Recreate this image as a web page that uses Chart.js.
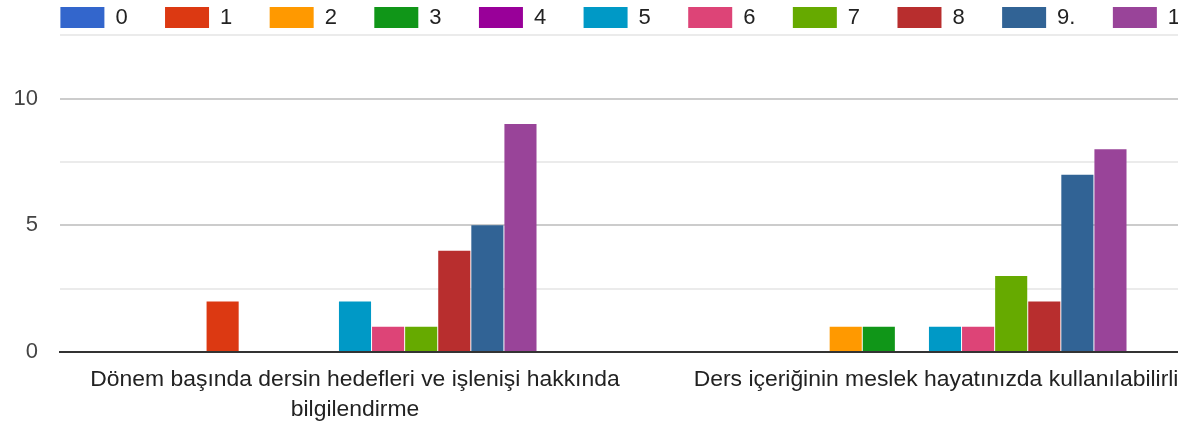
<!DOCTYPE html>
<html>
<head>
<meta charset="utf-8">
<script src="https://cdn.jsdelivr.net/npm/chart.js@4.4.1/dist/chart.umd.min.js"></script>
<style>
  html, body { margin: 0; padding: 0; background: #fff; overflow: hidden; }
  #wrap { width: 1250px; height: 423px; }
</style>
</head>
<body>
<div id="wrap"><canvas id="chart"></canvas></div>
<script>
// Kategoriler ve seriler
const categories = [
    ['Dönem başında dersin hedefleri ve işlenişi hakkında', 'bilgilendirme'],
    'Ders içeriğinin meslek hayatınızda kullanılabilirliği'
];
const seriesNames = ['0', '1', '2', '3', '4', '5', '6', '7', '8', '9.', '10'];
const seriesColors = ['#3366cc', '#dc3912', '#ff9900', '#109618', '#990099', '#0099c6',
                      '#dd4477', '#66aa00', '#b82e2e', '#316395', '#994499'];
// her seri için [kategori 1, kategori 2]
const s0 = [0, 0];
const s1 = [2, 0];
const s2 = [0, 1];
const s3 = [0, 1];
const s4 = [0, 0];
const s5 = [2, 1];
const s6 = [1, 1];
const s7 = [1, 3];
const s8 = [4, 2];
const s9 = [5, 7];
const s10 = [9, 8];
const seriesValues = [s0, s1, s2, s3, s4, s5, s6, s7, s8, s9, s10];
const yTicks = [0, 5, 10];

Chart.defaults.font.family = '"Liberation Sans", Arial, sans-serif';

// lejantın yüksekliğini sabitle ve biraz sağa kaydır
const legendFix = {
    id: 'legendFix',
    beforeInit(chart) {
        const fit = chart.legend.fit;
        chart.legend.fit = function () {
            fit.call(this);
            this.height = 66;
        };
    },
    afterLayout(chart) {
        chart.legend.left += 23;
        chart.legend.right += 23;
    }
};

const ctx = document.getElementById('chart').getContext('2d');
new Chart(ctx, {
    type: 'bar',
    data: {
        labels: categories,
        datasets: seriesNames.map((name, i) => ({
            label: name,
            data: seriesValues[i],
            backgroundColor: seriesColors[i],
            borderWidth: 0,
            categoryPercentage: 0.617,
            barPercentage: 0.97
        }))
    },
    options: {
        responsive: true,
        maintainAspectRatio: false,
        animation: false,
        layout: { padding: { top: -33, left: 0, right: 10 } },
        plugins: {
            legend: {
                align: 'start',
                labels: {
                    boxWidth: 44,
                    boxHeight: 21,
                    padding: 37.4,
                    color: '#222',
                    font: { size: 22 }
                }
            },
            tooltip: { enabled: false }
        },
        scales: {
            x: {
                grid: { display: false },
                border: { color: '#333', width: 2 },
                afterFit: (scale) => { scale.height -= 6; },
                ticks: {
                    color: '#222',
                    font: { size: 22.9, lineHeight: 1.33 },
                    maxRotation: 0,
                    autoSkip: false,
                    padding: 4
                }
            },
            y: {
                min: 0,
                max: 12.5,
                afterFit: (scale) => { scale.width = 60; },
                border: { display: false },
                grid: {
                    drawTicks: false,
                    color: (c) => (yTicks.includes(c.tick.value) ? '#cccccc' : '#ebebeb'),
                    lineWidth: 2
                },
                ticks: {
                    stepSize: 2.5,
                    color: '#444',
                    font: { size: 22 },
                    padding: 22,
                    callback: (v) => (yTicks.includes(v) ? v : '')
                }
            }
        }
    },
    plugins: [legendFix]
});
</script>
</body>
</html>
